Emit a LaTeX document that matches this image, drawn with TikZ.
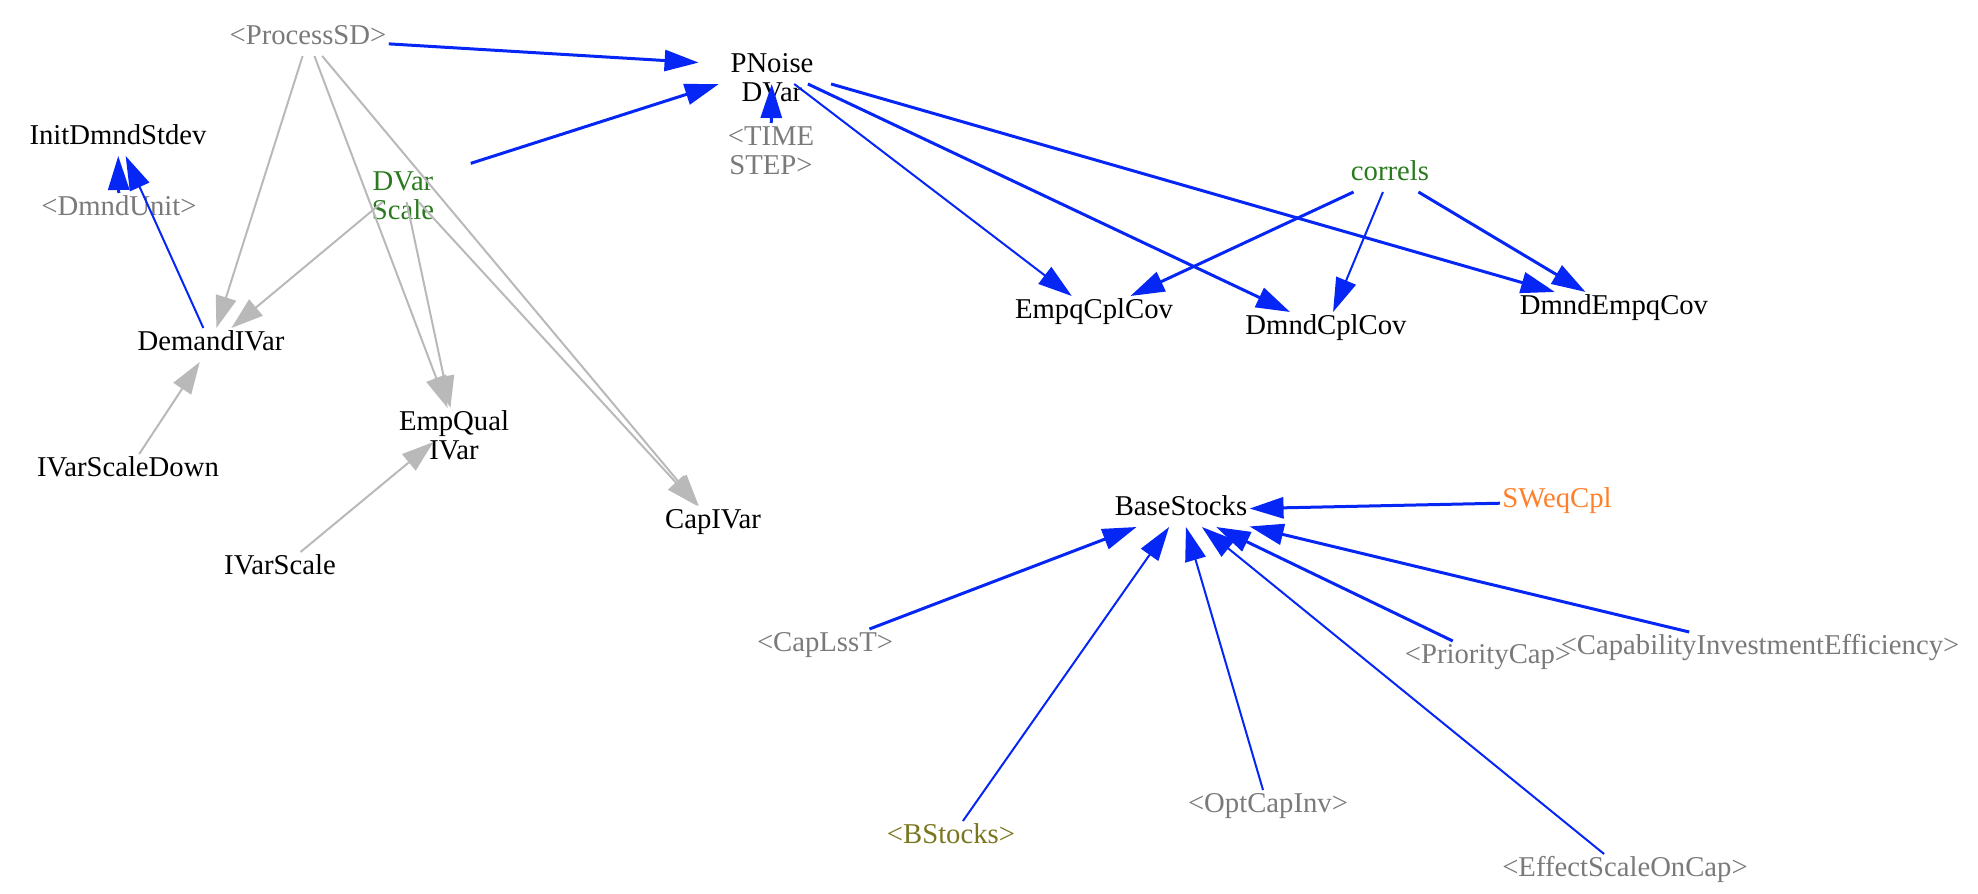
\documentclass[tikz,border=0pt]{standalone}
\usepackage{fontspec}
\setmainfont{Liberation Serif}
\usepackage{xcolor}
\usepackage{tikz}
\usetikzlibrary{arrows.meta}

\definecolor{ghostgray}{HTML}{7A7A7A}
\definecolor{constgreen}{HTML}{2A7A1E}
\definecolor{inorange}{HTML}{FF7F2A}
\definecolor{bstockolive}{HTML}{7A751F}
\definecolor{flowblue}{HTML}{0626F5}
\definecolor{linkgray}{HTML}{B9B9B9}

% two centred lines, hanging below the first one
\newcommand{\twolbl}[2]{\begin{tabular}[t]{@{}c@{}}#1\\#2\end{tabular}}

\begin{document}
\begin{tikzpicture}[
    x=0.5pt, y=-0.5pt,
    var/.style={inner xsep=1pt, inner ysep=3.3pt, text height=0.75em, text depth=0.25em, font=\fontsize{14.35}{14.5}\selectfont},
    ghost/.style={var, text=ghostgray},
    const/.style={var, text=constgreen},
    flow/.style={-{Triangle[length=17pt, width=10.5pt]}, line width=1.5pt, draw=flowblue},
    thinflow/.style={flow, line width=1pt},
    link/.style={-{Triangle[length=16pt, width=10.5pt]}, line width=1pt, draw=linkgray}
]
    \useasboundingbox (0,0) rectangle (1978,894);

    % left part
    \node[ghost] (processSD) at (308,39) {<ProcessSD>};
    \node[var] (initDmnd) at (118,139) {InitDmndStdev};
    \node[ghost] (dmndUnit) at (119,210) {<DmndUnit>};
    \node[const] (dvarScale) at (403,185) {\twolbl{DVar}{Scale}};
    \node[var] (demandIVar) at (211,345) {DemandIVar};
    \node[var] (ivarScaleDown) at (128,471) {IVarScaleDown};
    \node[var] (ivarScale) at (280,569) {IVarScale};
    \node[var] (empQual) at (454,425) {\twolbl{EmpQual}{IVar}};
    \node[var] (capIVar) at (713,523) {CapIVar};

    % noise and covariances
    \node[var, minimum width=73pt] (pnoise) at (772,67) {\twolbl{PNoise}{DVar}};
    \node[ghost] (timestep) at (771,140) {\twolbl{<TIME}{STEP>}};
    \node[const] (correls) at (1390,175) {correls};
    \node[var] (empqCplCov) at (1094,313) {EmpqCplCov};
    \node[var] (dmndCplCov) at (1326,329) {DmndCplCov};
    \node[var] (dmndEmpqCov) at (1614,309) {DmndEmpqCov};

    % base stocks
    \node[var] (baseStocks) at (1181,510) {BaseStocks};
    \node[var, text=inorange] (sweqCpl) at (1557,502) {SWeqCpl};
    \node[ghost] (capLssT) at (825,646) {<CapLssT>};
    \node[var, text=bstockolive] (bStocks) at (951,838) {<BStocks>};
    \node[ghost] (optCapInv) at (1268,807) {<OptCapInv>};
    \node[ghost] (effectScale) at (1625,871) {<EffectScaleOnCap>};
    \node[ghost] (priorityCap) at (1488,658) {<PriorityCap>};
    \node[ghost] (capInvEff) at (1760,649) {<CapabilityInvestmentEfficiency>};

    \draw[link] (processSD) -- (demandIVar);
    \draw[link] (processSD) -- (empQual);
    \draw[link] (processSD) -- (capIVar);
    \draw[link] (dvarScale) -- (demandIVar);
    \draw[link] (dvarScale) -- (empQual);
    \draw[link] (dvarScale) -- (capIVar);
    \draw[link] (ivarScaleDown) -- (demandIVar);
    \draw[link] (ivarScale) -- (empQual);

    \draw[flow] (processSD) -- (pnoise);
    \draw[flow, shorten <=18pt] (dvarScale) -- (pnoise);
    \draw[flow] (timestep) -- (pnoise);
    \draw[flow] (dmndUnit) -- (initDmnd);
    \draw[thinflow] (demandIVar) -- (initDmnd);

    \draw[thinflow] (pnoise) -- (empqCplCov);
    \draw[flow] (pnoise) -- (dmndCplCov);
    \draw[flow] (pnoise) -- (dmndEmpqCov);
    \draw[flow] (correls) -- (empqCplCov);
    \draw[thinflow] (correls) -- (dmndCplCov);
    \draw[flow] (correls) -- (dmndEmpqCov);

    \draw[flow] (sweqCpl) -- (baseStocks);
    \draw[flow] (capLssT) -- (baseStocks);
    \draw[thinflow] (bStocks) -- (baseStocks);
    \draw[thinflow] (optCapInv) -- (baseStocks);
    \draw[thinflow] (effectScale) -- (baseStocks);
    \draw[flow] (priorityCap) -- (baseStocks);
    \draw[flow] (capInvEff) -- (baseStocks);
\end{tikzpicture}
\end{document}
